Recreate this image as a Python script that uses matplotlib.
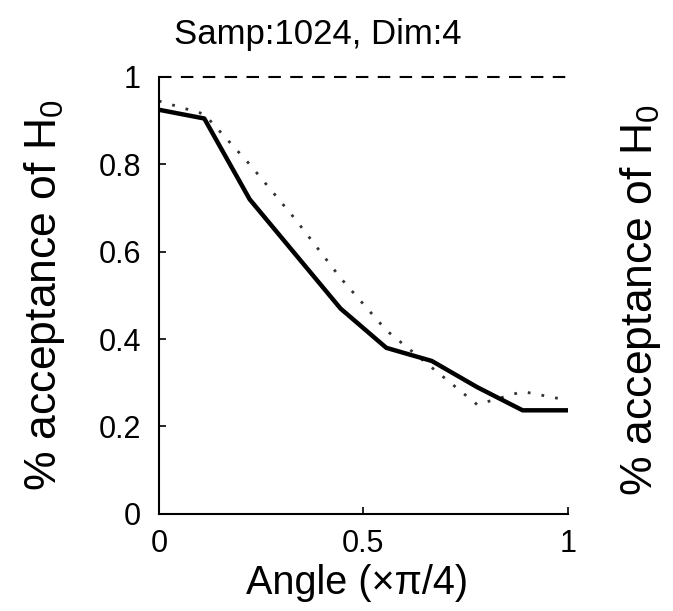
import matplotlib
matplotlib.use("Agg")
import matplotlib.pyplot as plt

plt.rcParams["font.family"] = ["Liberation Sans", "DejaVu Sans"]
plt.rcParams["mathtext.fontset"] = "custom"
plt.rcParams["mathtext.rm"] = "Liberation Sans"
plt.rcParams["mathtext.it"] = "Liberation Sans"

# angle (x pi/4), sampled at 10 points
angle = [0.0, 0.111, 0.222, 0.333, 0.444, 0.556, 0.667, 0.778, 0.889, 1.0]
# acceptance rates
solid_vals = [0.925, 0.905, 0.72, 0.595, 0.47, 0.38, 0.35, 0.29, 0.237, 0.237]
dotted_vals = [0.945, 0.915, 0.80, 0.675, 0.54, 0.42, 0.335, 0.25, 0.28, 0.26]
ref_level = 1.0

title = "Samp:1024, Dim:4"
xlabel = "Angle (×π/4)"
ylabel = r"% acceptance of H$_0$"

fig = plt.figure(figsize=(6.73, 6.11), dpi=100)
ax = fig.add_axes([0.236, 0.159, 0.608, 0.715])

ax.plot([angle[0], angle[-1]], [ref_level, ref_level], color="black",
        linestyle=(0, (6, 4.5)), linewidth=1.5, clip_on=False)
ax.plot(angle, dotted_vals, color="#333333", linestyle=(0, (1, 4)),
        linewidth=2.0)
ax.plot(angle, solid_vals, color="black", linewidth=3.2)

ax.set_xlim(0, 1)
ax.set_ylim(0, 1)
ax.set_xticks([0, 0.5, 1])
ax.set_xticklabels(["0", "0.5", "1"])
ax.set_yticks([0, 0.2, 0.4, 0.6, 0.8, 1])
ax.set_yticklabels(["0", "0.2", "0.4", "0.6", "0.8", "1"])
ax.tick_params(direction="in", length=5, width=1.2, labelsize=22)
ax.tick_params(axis="y", pad=13)
ax.tick_params(axis="x", pad=11)

ax.spines["top"].set_visible(False)
ax.spines["right"].set_visible(False)
ax.spines["left"].set_linewidth(1.5)
ax.spines["bottom"].set_linewidth(1.5)

fig.text(0.472, 0.943, title, fontsize=25, ha="center", va="center")
ax.set_xlabel(xlabel, fontsize=28.5, va="center")
ax.xaxis.set_label_coords(0.484, -0.158)
ax.set_ylabel(ylabel, fontsize=32, va="center")
ax.yaxis.set_label_coords(-0.279, 0.5)

# label of the neighbouring panel, cut off on the right
fig.text(0.951, 0.509, ylabel, rotation=90, fontsize=32,
         ha="center", va="center")

fig.savefig("out.png", dpi=100)
